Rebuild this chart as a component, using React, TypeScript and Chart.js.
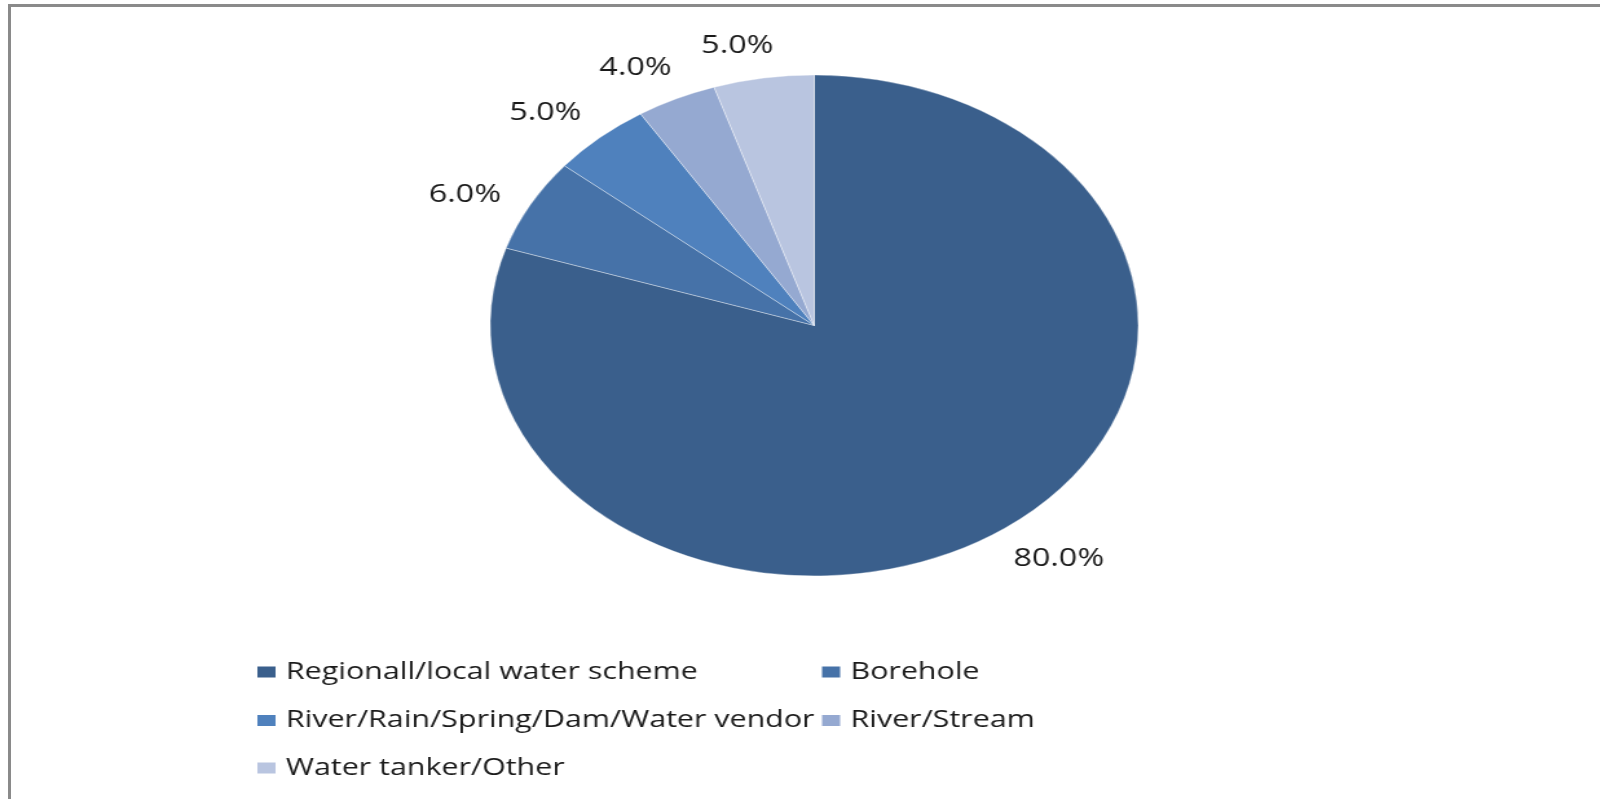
import React, { useEffect, useRef } from "react";
import { Chart, registerables } from "chart.js";

Chart.register(...registerables);

const categories = [
  "Regionall/local water scheme",
  "Borehole",
  "River/Rain/Spring/Dam/Water vendor",
  "River/Stream",
  "Water tanker/Other",
];
const shares = [80.0, 6.0, 5.0, 4.0, 5.0];
const valueLabels = ["80.0%", "6.0%", "5.0%", "4.0%", "5.0%"];
const colors = ["#3A5F8C", "#4672A8", "#4F81BD", "#95A9D1", "#B9C5E0"];

const STRETCH = 1.2935;
const INNER_W = Math.round(1600 / STRETCH);
const H = 799;
const FONT = "'Open Sans', 'Noto Sans', sans-serif";

const labelPlugin = {
  id: "outsideLabels",
  afterDatasetsDraw(chart: any) {
    const ctx = chart.ctx;
    const meta = chart.getDatasetMeta(0);
    ctx.save();
    ctx.font = `25px ${FONT}`;
    ctx.fillStyle = "#1a1a1a";
    ctx.textAlign = "center";
    ctx.textBaseline = "middle";
    meta.data.forEach((arc: any, i: number) => {
      const { x, y, startAngle, endAngle, outerRadius } = arc.getProps(
        ["x", "y", "startAngle", "endAngle", "outerRadius"],
        true
      );
      const mid = (startAngle + endAngle) / 2 - (3 * Math.PI) / 180;
      const text = valueLabels[i];
      const hw = ctx.measureText(text).width / 2;
      const hh = 10;
      const c = Math.cos(mid);
      const s = Math.sin(mid);
      const dist = outerRadius + 20 + hw * Math.abs(c) + hh * Math.abs(s);
      ctx.fillText(text, x + dist * c, y + dist * s);
    });
    ctx.restore();
  },
};

const legendPlugin = {
  id: "gridLegend",
  afterDraw(chart: any) {
    const ctx = chart.ctx;
    const colX = [199, 635.5];
    const rowY = [672, 720.5, 768];
    ctx.save();
    ctx.font = `23.5px ${FONT}`;
    ctx.textBaseline = "middle";
    ctx.textAlign = "left";
    chart.data.labels.forEach((lab: string, i: number) => {
      const col = i % 2;
      const row = Math.floor(i / 2);
      const bx = colX[col];
      const by = rowY[row];
      ctx.fillStyle = chart.data.datasets[0].backgroundColor[i];
      ctx.fillRect(bx, by - 5.5, 14, 11);
      ctx.fillStyle = "#1a1a1a";
      ctx.fillText(lab, bx + 22, by);
    });
    ctx.restore();
  },
};

export default function App() {
  const ref = useRef<HTMLCanvasElement>(null);
  useEffect(() => {
    document.body.style.margin = "0";
    const chart = new Chart(ref.current!, {
      type: "pie",
      data: {
        labels: categories,
        datasets: [
          {
            data: shares,
            backgroundColor: colors,
            borderColor: "rgba(255,255,255,0.35)",
            borderWidth: 1,
          },
        ],
      },
      options: {
        animation: false,
        responsive: true,
        maintainAspectRatio: false,
        rotation: 0,
        layout: { padding: { top: 74.5, bottom: 222.5, left: 22, right: 0 } },
        plugins: {
          legend: { display: false },
          tooltip: { enabled: false },
        },
      },
      plugins: [labelPlugin, legendPlugin],
    });
    return () => chart.destroy();
  }, []);

  return (
    <div style={{ position: "relative", width: 1600, height: H, overflow: "hidden", background: "#fff" }}>
      <div
        style={{
          position: "absolute",
          left: 0,
          top: 0,
          width: INNER_W,
          height: H,
          transform: `scaleX(${STRETCH})`,
          transformOrigin: "0 0",
        }}
      >
        <canvas ref={ref} />
      </div>
      <div
        style={{
          position: "absolute",
          left: 8,
          top: 4,
          width: 1600,
          height: H,
          borderTop: "3px solid #8a8a8a",
          borderLeft: "3px solid #8a8a8a",
          boxSizing: "border-box",
        }}
      />
    </div>
  );
}
